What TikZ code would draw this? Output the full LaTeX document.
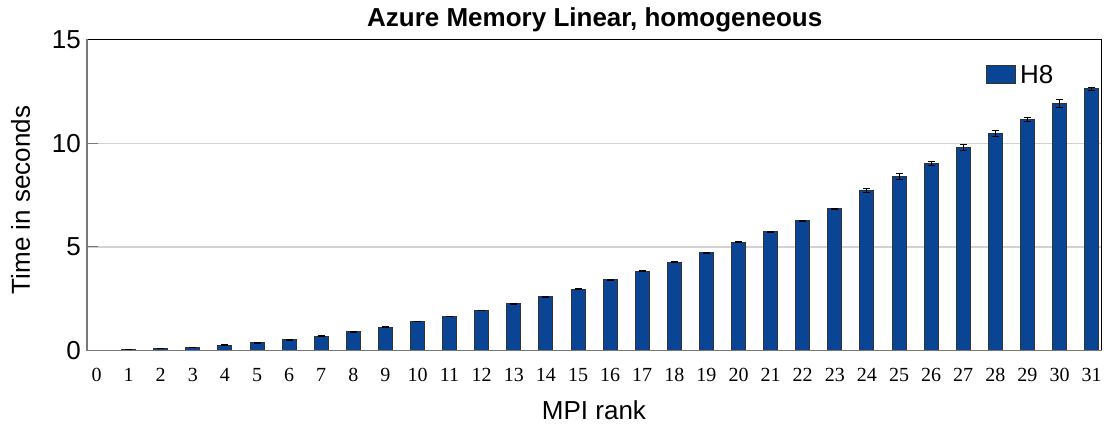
\documentclass[tikz,border=0pt]{standalone}
\usepackage{fontspec}
\setmainfont{Liberation Sans}
\newfontfamily\tickserif{Liberation Serif}
\definecolor{barblue}{RGB}{9,69,148}
\definecolor{gridgray}{RGB}{210,210,210}
\definecolor{axisgray}{RGB}{120,120,120}
\begin{document}
\begin{tikzpicture}[x=1pt,y=-1pt,
  barbox/.style={fill=barblue,draw=black!80,line width=1pt},
  errbar/.style={draw=black,line width=0.9pt},
  gridline/.style={draw=gridgray,line width=1.2pt},
  axisline/.style={draw=axisgray,line width=1.1pt},
  frameline/.style={draw=black,line width=1.1pt},
  ytick/.style={draw=axisgray,line width=1.1pt},
  ylab/.style={anchor=east,font=\fontsize{26}{30}\selectfont,inner sep=0pt},
  xlab/.style={anchor=base,font=\tickserif\fontsize{20}{24}\selectfont,inner sep=0pt},
  titletext/.style={anchor=base,font=\bfseries\fontsize{26}{30}\selectfont,inner sep=0pt},
  axistitle/.style={anchor=base,font=\fontsize{26}{30}\selectfont,inner sep=0pt}]
\useasboundingbox (0,0) rectangle (1104,428);
% grid lines
\draw[gridline] (87,143.3) -- (1101.5,143.3);
\draw[gridline] (87,246.9) -- (1101.5,246.9);
% bars
\foreach \i/\v/\e in {0/0.01/0.01,1/0.04/0.01,2/0.09/0.01,3/0.15/0.01,4/0.25/0.02,5/0.38/0.02,6/0.52/0.02,7/0.69/0.02,8/0.91/0.02,9/1.12/0.02,10/1.40/0.02,11/1.64/0.02,12/1.93/0.02,13/2.25/0.02,14/2.60/0.02,15/2.96/0.02,16/3.41/0.02,17/3.82/0.02,18/4.26/0.02,19/4.72/0.03,20/5.22/0.03,21/5.73/0.03,22/6.26/0.03,23/6.84/0.03,24/7.73/0.09,25/8.41/0.15,26/9.04/0.09,27/9.78/0.15,28/10.47/0.13,29/11.13/0.1,30/11.92/0.19,31/12.62/0.09}{
  \pgfmathsetmacro{\cx}{96.5+32.1*\i}
  \pgfmathsetmacro{\ty}{350.5-20.73*\v}
  \pgfmathsetmacro{\ehi}{350.5-20.73*(\v+\e)}
  \pgfmathsetmacro{\elo}{350.5-20.73*(\v-\e)}
  \draw[barbox] (\cx-7,350.5) rectangle (\cx+7,\ty);
  \draw[errbar] (\cx,\ehi) -- (\cx,\elo);
  \draw[errbar] (\cx-3.5,\ehi) -- (\cx+3.5,\ehi);
  \draw[errbar] (\cx-3.5,\elo) -- (\cx+3.5,\elo);
  \node[xlab] (xt\i) at (\cx,381) {\i};
}
% frame
\draw[frameline] (87,39.5) -- (1101.5,39.5) -- (1101.5,350.5);
\draw[axisline] (1101.5,350.5) -- (87,350.5) -- (87,39.5);
\draw[ytick] (87,246.9) -- (98,246.9);
\draw[ytick] (87,143.3) -- (98,143.3);
% y tick labels
\node[ylab] (y0) at (81,351) {0};
\node[ylab] (y5) at (81,246.9) {5};
\node[ylab] (y10) at (81,143.3) {10};
\node[ylab] (y15) at (81,39.5) {15};
% titles
\node[titletext] (title) at (594.7,26.7) {Azure Memory Linear, homogeneous};
\node[axistitle] (xlabel) at (594,419) {MPI rank};
\node[axistitle,rotate=90] (ylabel) at (30,200) {Time in seconds};
% legend
\draw[barbox] (986,65.5) rectangle (1015,84) coordinate (legbox);
\node[anchor=base west,font=\fontsize{26}{30}\selectfont,inner sep=0pt] (legtext) at (1020,84) {H8};
\end{tikzpicture}
\end{document}
